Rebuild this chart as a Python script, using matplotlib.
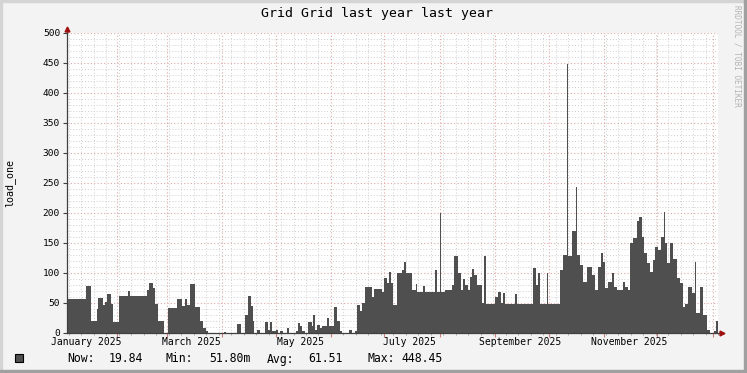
import datetime as dt
import matplotlib
matplotlib.use("Agg")
import matplotlib.pyplot as plt
import matplotlib.dates as mdates
from matplotlib.patches import Rectangle
from matplotlib.transforms import blended_transform_factory

plt.rcParams["font.family"] = "DejaVu Sans Mono"

# time window: one year back from "now"
start = dt.datetime(2025, 1, 4)
end = start + dt.timedelta(days=365)

# load_one, step series: day offset from start -> value from that day on
days = [0, 10.5, 13.5, 17, 17.5, 20, 21.5, 22.5, 24.5, 26, 29, 34, 35.5, 45, 46,
        48.2, 49.3, 51, 54.4, 56.6, 61.7, 64.5, 66.1, 67.3, 68.9, 71.7, 74.6,
        76.2, 77.9, 79, 88, 89.1, 95.3, 97.5, 99.8, 101.5, 103.1, 104.3, 104.8,
        106.5, 108.2, 111, 112.7, 113.8, 114.9, 117.2, 118.3, 119.4, 121.1,
        123.3, 124.4, 128.4, 129.5, 130.6, 131.7, 133.4, 135.1, 137.3, 137.9,
        139, 140.1, 141.8, 142.9, 145.7, 146.9, 147.4, 149.7, 151.3, 153,
        154.1, 158.1, 159.8, 161.4, 162.6, 164.2, 165.4, 167, 171, 172.1,
        176.6, 177.7, 179.4, 180.5, 181.6, 182.7, 185, 187.8, 188.9, 190,
        193.4, 195.6, 196.2, 199.6, 200.7, 206.3, 207.4, 209.1, 209.6, 211.9,
        215.8, 216.9, 219.2, 220.9, 222, 223.1, 224.8, 225.9, 227, 228.1,
        229.8, 232.6, 233.7, 234.9, 239.9, 241.6, 243.3, 244.4, 245.5, 251.1,
        252.2, 261.2, 262.9, 264, 265.1, 269.1, 269.6, 276.3, 278, 280.3,
        280.8, 283.1, 285.3, 285.9, 287.6, 289.2, 291.5, 294.3, 296, 297.6,
        299.3, 300.4, 301.6, 303.3, 305.5, 306.6, 308.3, 311.7, 312.8, 314.5,
        315.6, 317.3, 319.5, 320.6, 322.3, 323.4, 325.1, 326.8, 328.5, 329.6,
        331.3, 333, 334.6, 335.2, 336.3, 338, 339.7, 341.9, 343.6, 345.3,
        346.4, 348.1, 350.3, 352, 352.6, 354.8, 356.5, 358.7, 360.4, 362.6,
        363.7, 365]
load = [57, 78, 20, 40, 58, 47, 52, 65, 49, 18, 62, 70, 62, 72, 83,
        75, 49, 20, 0, 42, 56, 45, 56, 47, 82, 43, 20,
        8, 3, 0, 2, 0, 15, 0, 30, 62, 45, 20, 0,
        5, 0, 19, 5, 19, 3, 5, 0, 3, 0,
        8, 0, 3, 17, 12, 3, 0, 19, 12, 30,
        5, 13, 8, 12, 25, 12, 12, 44, 20, 3,
        0, 5, 0, 3, 47, 37, 50, 76, 60, 74,
        68, 91, 83, 102, 83, 47, 100, 105, 119, 100,
        72, 82, 69, 78, 69, 105, 69, 200, 69, 72,
        80, 128, 100, 72, 90, 80, 72, 94, 106, 97,
        80, 50, 128, 49, 60, 69, 50, 66, 48, 65,
        48, 108, 80, 100, 48, 100, 48, 105, 130, 448,
        128, 170, 244, 130, 113, 85, 110, 97, 72, 110,
        133, 119, 75, 85, 100, 77, 72, 85, 77, 72,
        150, 158, 186, 194, 160, 133, 116, 102, 122, 144,
        139, 160, 202, 150, 116, 150, 123, 91, 83, 44,
        48, 77, 66, 119, 33, 77, 30, 5, 0, 3,
        19.84, 19.84]

legend_labels = ["Now:", "Min:", "Avg:", "Max:"]
legend_values = ["19.84", "51.80m", "61.51", "448.45"]

month_labels = ["January 2025", "March 2025", "May 2025", "July 2025",
                "September 2025", "November 2025"]
label_months = [1, 3, 5, 7, 9, 11]

area_color = "#4f4f4f"
W, H = 747, 373

fig = plt.figure(figsize=(W / 100, H / 100), dpi=100, facecolor="#f3f3f3")
ax = fig.add_axes([67 / W, 40 / H, 651 / W, 300 / H])
ax.set_facecolor("white")

t0 = mdates.date2num(start)
x = [t0 + d for d in days]
ax.fill_between(x, load, step="post", color=area_color, linewidth=0, zorder=2)

ax.set_xlim(t0, mdates.date2num(end))
ax.set_ylim(0, 500)

# grid: weekly minor, monthly major, y every 10 / 50
ax.set_axisbelow(True)
ax.xaxis.set_major_locator(mdates.MonthLocator())
ax.xaxis.set_minor_locator(mdates.WeekdayLocator(byweekday=mdates.SU))
ax.xaxis.set_major_formatter(plt.NullFormatter())
ax.set_yticks(range(0, 501, 50))
ax.set_yticks(range(0, 501, 10), minor=True)
ax.grid(which="minor", color="#cfcfcf", linestyle=(0, (1, 2)), linewidth=0.7)
ax.grid(which="major", color="#e2a8a8", linestyle=(0, (1, 2)), linewidth=0.8)

ax.tick_params(axis="y", which="major", length=3, width=0.8, color="#404040",
               pad=2, labelsize=6.8)
ax.tick_params(axis="y", which="minor", length=0)
ax.tick_params(axis="x", which="major", length=3, width=0.8, color="#d08080")
ax.tick_params(axis="x", which="minor", length=1.5, width=0.6, color="#a0a0a0")

for s in ["top", "right"]:
    ax.spines[s].set_visible(False)
for s in ["left", "bottom"]:
    ax.spines[s].set_color("#404040")
    ax.spines[s].set_linewidth(0.9)
    ax.spines[s].set_zorder(3)

# axis arrows
ax.plot([0, 0], [1, 1.012], transform=ax.transAxes, color="#404040",
        lw=0.9, clip_on=False, zorder=3)
ax.plot([1, 1.006], [0, 0], transform=ax.transAxes, color="#404040",
        lw=0.9, clip_on=False, zorder=3)
ax.plot(0, 1.013, marker="^", color="#a01010", markersize=3.5,
        transform=ax.transAxes, clip_on=False, zorder=4)
ax.plot(1.0065, 0, marker=">", color="#a01010", markersize=3.5,
        transform=ax.transAxes, clip_on=False, zorder=4)

# month labels centred mid-month
trans = blended_transform_factory(ax.transData, ax.transAxes)
for m, lab in zip(label_months, month_labels):
    xm = mdates.date2num(dt.datetime(2025, m, 15))
    ax.text(xm, -0.014, lab, ha="center", va="top", fontsize=7,
            transform=trans)

fig.text(10 / W, 1 - 183 / H, "load_one", rotation=90, ha="center",
         va="center", fontsize=7.2)

fig.text(376.5 / W, 1 - 14 / H, "Grid Grid last year last year",
         ha="center", va="center", fontsize=9.5)
fig.text(737 / W, 1 - 5 / H, "RRDTOOL / TOBI OETIKER", rotation=270,
         ha="center", va="top", fontsize=5.6, color="#b4b4b4")

# legend row
fig.patches.append(Rectangle((15 / W, 1 - 362 / H), 8 / W, 8 / H,
                             transform=fig.transFigure, facecolor=area_color,
                             edgecolor="black", linewidth=0.8))
ly = 1 - 359 / H
for lab, lx in zip(legend_labels, [67, 166, 267, 367]):
    fig.text(lx / W, ly, lab, ha="left", va="center", fontsize=8.3)
for val, vx in zip(legend_values, [143, 250, 343, 443]):
    fig.text(vx / W, ly, val, ha="right", va="center", fontsize=8.3)

# frame: light top/left, dark bottom/right
fig.patches.append(Rectangle((0, 1 - 2 / H), 1, 2 / H, transform=fig.transFigure,
                             color="#d4d4d4"))
fig.patches.append(Rectangle((0, 0), 2 / W, 1, transform=fig.transFigure,
                             color="#d4d4d4"))
fig.patches.append(Rectangle((1 - 3 / W, 0), 3 / W, 1, transform=fig.transFigure,
                             color="#a0a0a0"))
fig.patches.append(Rectangle((0, 0), 1, 3 / H, transform=fig.transFigure,
                             color="#a0a0a0"))

fig.savefig("out.png", dpi=100, facecolor=fig.get_facecolor())
